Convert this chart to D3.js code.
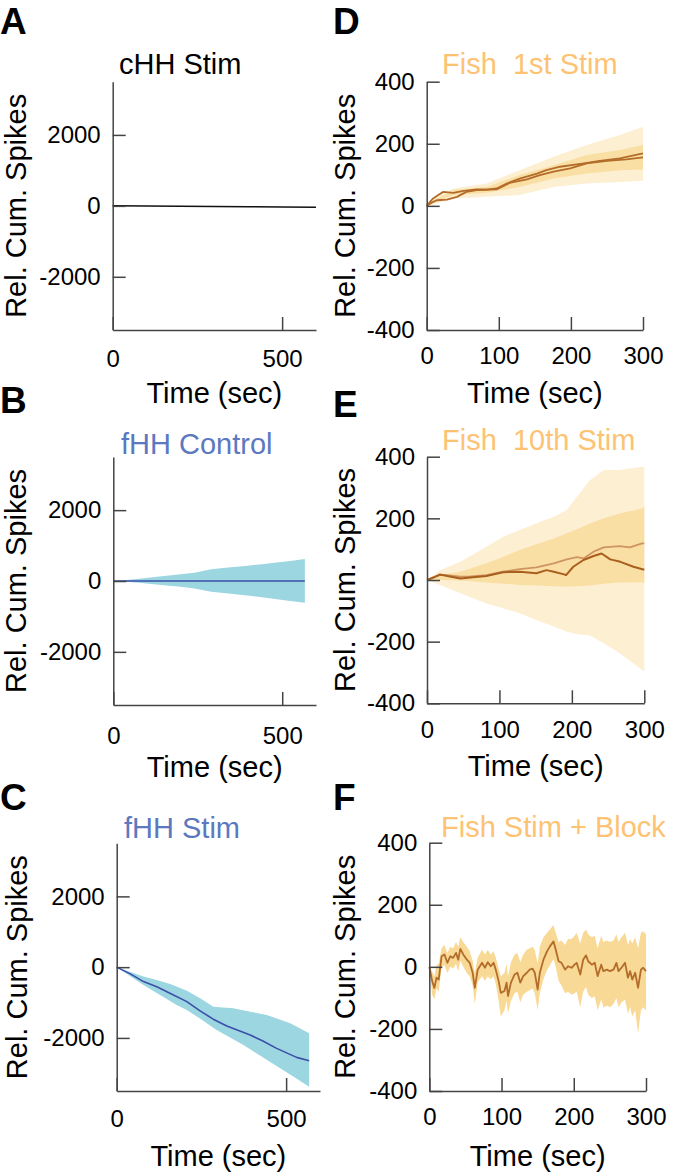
<!DOCTYPE html>
<html><head><meta charset="utf-8">
<script src="https://cdn.jsdelivr.net/npm/d3@7"></script>
<style>body{margin:0;background:#fff}svg{display:block}text{font-family:'Liberation Sans',Arial,Helvetica,sans-serif}</style>
</head><body><svg id="c" width="673" height="1172"></svg>
<script>
// ---------- DATA ----------
// Panel A: cHH Stim
const aTime = [0, 100, 200, 300, 400, 500, 600];
const aMean = [0, -5, -10, -15, -22, -30, -40];

// Panel B: fHH Control
const bTime  = [0, 40, 90, 150, 200, 240, 290, 340, 390, 440, 490, 530, 567];
const bMean  = [0, 0, 0, 0, 0, 0, 0, 0, 0, 0, 0, 0, 0];
const bUpper = [0, 25, 75, 140, 190, 230, 330, 380, 425, 475, 530, 570, 620];
const bLower = [0, -20, -60, -120, -165, -210, -300, -350, -400, -460, -520, -570, -615];

// Panel C: fHH Stim
const cTime = [0, 40, 79, 120, 157, 207, 245, 285, 325, 394, 430, 472, 531, 568];
const cMean = [0, -190, -408, -560, -737, -974, -1230, -1470, -1663, -1918, -2080, -2295, -2550, -2646];
const cUpperTime = [0, 79, 118, 160, 207, 250, 285, 344, 394, 443, 512, 568];
const cUpper     = [0, -266, -360, -480, -665, -900, -1116, -1162, -1260, -1351, -1587, -1870];
const cLowerTime = [0, 79, 128, 177, 207, 250, 295, 374, 472, 520, 568];
const cLower     = [0, -501, -785, -1068, -1210, -1480, -1776, -2200, -2790, -3080, -3380];

// Panel D: Fish 1st Stim
const dLine1Time = [0, 8, 16, 23, 37, 51, 69, 83, 97, 111, 129, 153, 166, 185, 213, 240, 268, 300];
const dLine1     = [0, 22, 35, 45, 42, 48, 53, 52, 56, 72, 88, 104, 115, 126, 135, 145, 153, 169];
const dLine2Time = [0, 8, 14, 28, 42, 55, 69, 97, 115, 139, 157, 176, 199, 222, 250, 277, 300];
const dLine2     = [0, 12, 18, 20, 29, 45, 51, 53, 74, 85, 99, 110, 121, 137, 145, 150, 156];
const dBandTime  = [0, 10, 37, 83, 129, 176, 222, 268, 300];
const dOuterUp   = [0, 25, 56, 72, 115, 158, 196, 228, 255];
const dOuterLow  = [0, 5, 24, 29, 35, 61, 72, 77, 81];
const dInnerUp   = [0, 18, 51, 61, 99, 131, 164, 180, 196];
const dInnerLow  = [0, 8, 35, 42, 61, 88, 104, 115, 117];

// Panel E: Fish 10th Stim
const eBandTime = [0, 18, 46, 82, 105, 128, 151, 175, 193, 207, 225, 244, 266, 297, 300];
const eOuterUp  = [0, 32, 59, 108, 140, 162, 184, 205, 227, 270, 324, 357, 357, 367, 365];
const eOuterLow = [0, -16, -43, -76, -92, -108, -130, -151, -168, -175, -180, -205, -238, -292, -298];
const eInnerUp  = [0, 16, 27, 54, 75, 97, 116, 135, 152, 165, 183, 200, 216, 232, 238];
const eInnerLow = [0, 0, -2, -8, -12, -16, -18, -20, -22, -20, -18, -12, -8, -7, -10];
const eLightTime = [0, 9, 18, 27, 46, 60, 82, 105, 128, 151, 175, 193, 207, 216, 230, 244, 266, 280, 297, 300];
const eLight     = [0, 9, 16, 16, 11, 12, 16, 27, 35, 41, 54, 67, 74, 70, 92, 106, 110, 106, 119, 119];
const eDarkTime  = [0, 9, 18, 28, 46, 60, 82, 105, 128, 151, 165, 175, 188, 192, 202, 216, 230, 241, 253, 267, 285, 300];
const eDark      = [0, 8, 18, 13, 5, 8, 13, 25, 27, 22, 32, 27, 19, 16, 43, 65, 78, 86, 67, 59, 43, 33];

// Panel F: Fish Stim + Block
const fTime = [0,4,7,10,13,17,21,25,29,33,37,40,43,47,52,56,60,63,67,73,77,81,85,89,92,96,99,104,107,109,113,118,122,126,130,135,139,143,146,150,153,158,163,167,172,175,179,183,188,192,197,201,204,209,213,217,220,225,229,233,238,241,246,250,255,259,262,266,271,275,278,281,285,289,293,296,300];
const fMean = [0,-46,-68,-35,-41,34,40,13,34,29,45,23,58,40,23,13,-19,-68,-9,13,-3,15,2,13,-9,-46,-84,-78,-51,-94,-51,-25,-19,-51,-30,-19,-9,-6,-19,-73,-19,23,50,66,82,56,18,13,-9,2,-3,7,13,-25,23,37,18,7,13,-30,7,-14,-9,-14,-9,13,-14,-3,13,-35,-14,-41,-19,-68,-9,-3,-14];
const fUpper = [0,-15,-30,5,10,60,70,45,65,60,80,65,95,80,65,50,20,-20,30,55,40,55,40,50,30,-5,-30,-20,10,-30,15,40,45,15,40,55,60,65,55,10,65,95,110,120,135,110,80,85,70,90,90,100,110,75,110,120,105,95,100,60,100,80,85,80,85,105,80,95,110,70,90,75,95,60,110,115,105];
const fLower = [0,-90,-105,-70,-80,0,5,-20,0,-5,10,-15,20,0,-20,-30,-60,-120,-50,-30,-45,-30,-40,-30,-55,-110,-160,-140,-110,-150,-110,-85,-80,-115,-90,-80,-75,-70,-85,-140,-85,-40,-10,5,25,0,-45,-60,-85,-80,-90,-85,-80,-130,-80,-65,-90,-100,-95,-140,-105,-130,-125,-130,-120,-100,-130,-115,-105,-150,-130,-160,-140,-215,-140,-130,-140];

// Tick values
const xTicksLong  = [0, 500];
const xTicksShort = [0, 100, 200, 300];
const yTicksLarge = [-2000, 0, 2000];
const yTicksSmall = [-400, -200, 0, 200, 400];

// ---------- STYLE ----------
const BLUE_BAND = '#9BD6E1', BLUE_LINE = '#3B4FA8', BLUE_TITLE = '#5B78C0';
const OR_TITLE = '#FDC272', OR_OUT = '#FDEFD2', OR_IN = '#FADFA4', OR_F = '#F9D996';
const DARK_BR = '#A85F1E', LIGHT_BR = '#CF9560', MID_BR = '#B36C2A';
const AX = '#444';

const svg = d3.select('#c');
svg.append('rect').attr('width', 673).attr('height', 1172).attr('fill', '#fff');

const panels = [
  {letter:'A', lx:0, ly:34, box:{l:112.7,r:316,t:81.7,b:330}, xd:[0,600], xt:xTicksLong, yd:[-3500,3500], yt:yTicksLarge,
   title:'cHH Stim', tc:'#000', tx:119, ty:74, ylx:26, tickB:36.7, timeB:73},
  {letter:'B', lx:0, ly:413, box:{l:113.3,r:316,t:457,b:705}, xd:[0,600], xt:xTicksLong, yd:[-3500,3500], yt:yTicksLarge,
   title:'fHH Control', tc:BLUE_TITLE, tx:121, ty:454, ylx:26, tickB:39, timeB:72},
  {letter:'C', lx:0, ly:810, box:{l:116.7,r:320,t:843.3,b:1091}, xd:[0,600], xt:xTicksLong, yd:[-3500,3500], yt:yTicksLarge,
   title:'fHH Stim', tc:BLUE_TITLE, tx:124, ty:838, ylx:27, tickB:36, timeB:74.5},
  {letter:'D', lx:333, ly:34, box:{l:426.7,r:643,t:81.7,b:330}, xd:[0,300], xt:xTicksShort, yd:[-400,400], yt:yTicksSmall,
   title:'Fish  1st Stim', tc:OR_TITLE, tx:442, ty:74, ylx:355, tickB:34, timeB:73},
  {letter:'E', lx:333, ly:417, box:{l:427,r:644.3,t:456.7,b:703.3}, xd:[0,300], xt:xTicksShort, yd:[-400,400], yt:yTicksSmall,
   title:'Fish  10th Stim', tc:OR_TITLE, tx:442, ty:450, ylx:355, tickB:35, timeB:73},
  {letter:'F', lx:333, ly:810, box:{l:429.3,r:646,t:842.7,b:1091}, xd:[0,300], xt:xTicksShort, yd:[-400,400], yt:yTicksSmall,
   title:'Fish Stim + Block', tc:OR_TITLE, tx:441, ty:836.5, ylx:355, tickB:34, timeB:74.5}
];

function band(g, x, y, tu, vu, tl, vl, fill) {
  const pts = tu.map((t, i) => [t, vu[i]]).concat(tl.map((t, i) => [t, vl[i]]).reverse());
  g.append('path').attr('d', d3.line().x(d => x(d[0])).y(d => y(d[1]))(pts) + 'Z').attr('fill', fill).attr('stroke', 'none');
}
function line(g, x, y, ts, vs, color, w) {
  const pts = ts.map((t, i) => [t, vs[i]]);
  g.append('path').attr('d', d3.line().x(d => x(d[0])).y(d => y(d[1]))(pts))
    .attr('fill', 'none').attr('stroke', color).attr('stroke-width', w).attr('stroke-linejoin', 'round');
}

const drawData = {
  A: (g, x, y) => { line(g, x, y, aTime, aMean, '#111', 1.5); },
  B: (g, x, y) => { band(g, x, y, bTime, bUpper, bTime, bLower, BLUE_BAND); line(g, x, y, bTime, bMean, BLUE_LINE, 1.6); },
  C: (g, x, y) => { band(g, x, y, cUpperTime, cUpper, cLowerTime, cLower, BLUE_BAND); line(g, x, y, cTime, cMean, BLUE_LINE, 1.6); },
  D: (g, x, y) => {
    band(g, x, y, dBandTime, dOuterUp, dBandTime, dOuterLow, OR_OUT);
    band(g, x, y, dBandTime, dInnerUp, dBandTime, dInnerLow, OR_IN);
    line(g, x, y, dLine2Time, dLine2, MID_BR, 1.8);
    line(g, x, y, dLine1Time, dLine1, MID_BR, 1.8);
  },
  E: (g, x, y) => {
    band(g, x, y, eBandTime, eOuterUp, eBandTime, eOuterLow, OR_OUT);
    band(g, x, y, eBandTime, eInnerUp, eBandTime, eInnerLow, OR_IN);
    line(g, x, y, eLightTime, eLight, LIGHT_BR, 1.8);
    line(g, x, y, eDarkTime, eDark, DARK_BR, 2);
  },
  F: (g, x, y) => {
    band(g, x, y, fTime, fUpper, fTime, fLower, OR_F);
    line(g, x, y, fTime, fMean, MID_BR, 1.8);
  }
};

panels.forEach(p => {
  const x = d3.scaleLinear().domain(p.xd).range([p.box.l, p.box.r]);
  const y = d3.scaleLinear().domain(p.yd).range([p.box.b, p.box.t]);
  const g = svg.append('g');

  drawData[p.letter](g, x, y);

  // axes
  const xa = g.append('g').attr('transform', `translate(0,${p.box.b})`)
    .call(d3.axisBottom(x).tickValues(p.xt).tickSize(-13).tickSizeOuter(0).tickPadding(10).tickFormat(d => String(d)));
  xa.selectAll('.tick text').attr('dy', null).attr('y', p.tickB);
  const ya = g.append('g').attr('transform', `translate(${p.box.l},0)`)
    .call(d3.axisLeft(y).tickValues(p.yt).tickSize(-13).tickSizeOuter(0).tickPadding(12).tickFormat(d => String(d)));
  [xa, ya].forEach(a => {
    a.select('.domain').attr('stroke', AX).attr('stroke-width', 1.5);
    a.selectAll('.tick line').attr('stroke', AX).attr('stroke-width', 1.5);
    a.selectAll('.tick text').attr('fill', '#000').style('font-size', '24px')
      .style('font-family', "'Liberation Sans',Arial,sans-serif");
  });

  // axis titles
  g.append('text').attr('x', (p.box.l + p.box.r) / 2).attr('y', p.box.b + p.timeB)
    .attr('text-anchor', 'middle').style('font-size', '29px').attr('fill', '#000').text('Time (sec)');
  g.append('text').attr('transform', `translate(${p.ylx},${(p.box.t + p.box.b) / 2}) rotate(-90)`)
    .attr('text-anchor', 'middle').style('font-size', '29px').attr('fill', '#000').text('Rel. Cum. Spikes');

  // panel title
  g.append('text').attr('x', p.tx).attr('y', p.ty).style('font-size', '29px').style('white-space', 'pre')
    .attr('fill', p.tc).text(p.title);

  // panel letter
  g.append('text').attr('x', p.lx).attr('y', p.ly).style('font-size', '37px').style('font-weight', 'bold')
    .attr('fill', '#000').text(p.letter);
});
</script></body></html>
